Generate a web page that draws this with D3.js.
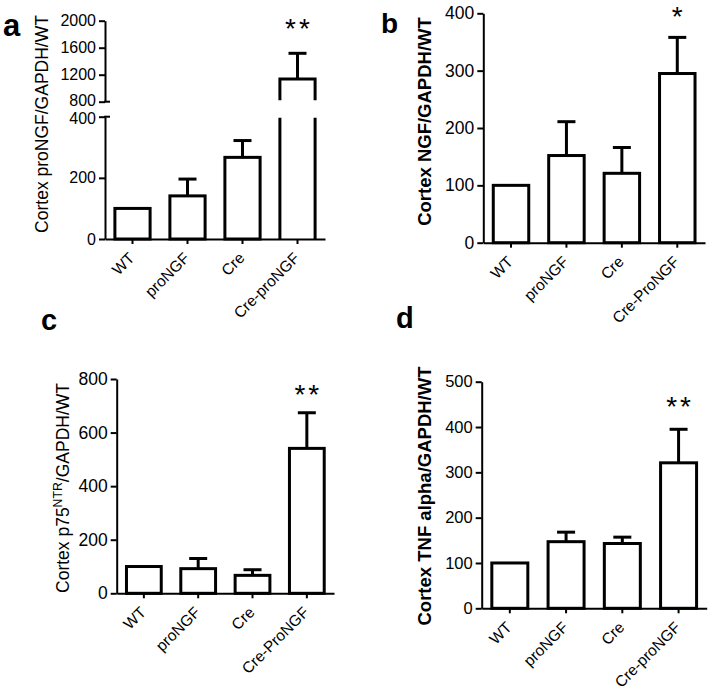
<!DOCTYPE html>
<html><head><meta charset="utf-8">
<script src="https://cdn.jsdelivr.net/npm/d3@7"></script>
<style>
body{margin:0;background:#fff}
svg{display:block}
text{font-family:"Liberation Sans",Arial,sans-serif;fill:#000}
</style>
</head><body>
<svg id="chart" width="712" height="699"></svg>
<script>
// ---------- DATA ----------
const categoriesA = ["WT", "proNGF", "Cre", "Cre-proNGF"];
const valuesA = [100, 141, 267, 1136];
const errorsA = [0, 55, 55, 381];
const ticksALow = [0, 200, 400];
const ticksAHigh = [800, 1200, 1600, 2000];

const categoriesB = ["WT", "proNGF", "Cre", "Cre-ProNGF"];
const valuesB = [100, 152, 121, 295];
const errorsB = [0, 59, 45, 63];
const ticksB = [0, 100, 200, 300, 400];

const categoriesC = ["WT", "proNGF", "Cre", "Cre-ProNGF"];
const valuesC = [100, 92, 67, 541];
const errorsC = [0, 38, 21, 133];
const ticksC = [0, 200, 400, 600, 800];

const categoriesD = ["WT", "proNGF", "Cre", "Cre-proNGF"];
const valuesD = [100, 147, 143, 321];
const errorsD = [0, 21, 14, 74];
const ticksD = [0, 100, 200, 300, 400, 500];

const signifA = ["", "", "", "**"];
const signifB = ["", "", "", "*"];
const signifC = ["", "", "", "**"];
const signifD = ["", "", "", "**"];

// ---------- PANELS ----------
const svg = d3.select("#chart");

const panels = [
  {label: "a", labelPos: [3, 36], labelSize: 31, cats: categoriesA, vals: valuesA, errs: errorsA, sig: signifA, sigOffset: 32,
   x0: 105, x1: 325, tickSize: 16,
   segments: [{domain: [0, 400], range: [239, 116.7], ticks: ticksALow},
              {domain: [800, 2000], range: [101.7, 20.7], ticks: ticksAHigh}],
   ylabel: [{t: "Cortex proNGF/GAPDH/WT"}], ylabelPos: [42, 124], ylabelBold: false, ylabelSize: 17.5},
  {label: "b", labelPos: [381, 33], labelSize: 28, cats: categoriesB, vals: valuesB, errs: errorsB, sig: signifB, sigOffset: 27.5,
   x0: 483.3, x1: 705, tickSize: 17.5,
   segments: [{domain: [0, 400], range: [242.7, 13.3], ticks: ticksB}],
   ylabel: [{t: "Cortex NGF/GAPDH/WT"}], ylabelPos: [425, 121.5], ylabelBold: true, ylabelSize: 18.5},
  {label: "c", labelPos: [41, 330], labelSize: 29, cats: categoriesC, vals: valuesC, errs: errorsC, sig: signifC, sigOffset: 25,
   x0: 116.7, x1: 334, tickSize: 17.5,
   segments: [{domain: [0, 800], range: [593.3, 379], ticks: ticksC}],
   ylabel: [{t: "Cortex p75"}, {t: "NTR", sup: true}, {t: "/GAPDH/WT"}], ylabelPos: [63, 488], ylabelBold: false, ylabelSize: 17.5},
  {label: "d", labelPos: [396, 328], labelSize: 29, cats: categoriesD, vals: valuesD, errs: errorsD, sig: signifD, sigOffset: 30,
   x0: 481.7, x1: 706.7, tickSize: 16.5,
   segments: [{domain: [0, 500], range: [608.3, 381.7], ticks: ticksD}],
   ylabel: [{t: "Cortex TNF alpha/GAPDH/WT"}], ylabelPos: [425, 496], ylabelBold: true, ylabelSize: 18.5}
];

panels.forEach(drawPanel);

function drawPanel(p) {
  const g = svg.append("g");
  const x = d3.scaleBand().domain(p.cats).range([p.x0, p.x1]).paddingInner(0.36).paddingOuter(0.18);
  const bw = x.bandwidth();
  const scales = p.segments.map(s => d3.scaleLinear().domain(s.domain).range(s.range));
  const segOf = v => {
    for (let i = 0; i < p.segments.length; i++) if (v <= p.segments[i].domain[1]) return i;
    return p.segments.length - 1;
  };
  const y = v => scales[segOf(v)](v);
  const y0 = scales[0](0);

  // y axis segments
  p.segments.forEach((s, i) => {
    const ax = g.append("g").attr("transform", `translate(${p.x0},0)`)
      .call(d3.axisLeft(scales[i]).tickValues(s.ticks).tickFormat(d3.format("d"))
        .tickSize(6).tickSizeOuter(0).tickPadding(3));
    styleAxis(ax, p.tickSize);
    if (p.segments.length > 1) {
      const ends = [];
      if (i < p.segments.length - 1) ends.push(s.range[1]);
      if (i > 0) ends.push(s.range[0]);
      ends.forEach(yy => g.append("line").attr("x1", p.x0 - 1).attr("x2", p.x0 + 5)
        .attr("y1", yy).attr("y2", yy).attr("stroke", "#000").attr("stroke-width", 2));
      ax.selectAll(".tick text").filter(d => d === s.domain[1] && i < p.segments.length - 1).attr("dy", "0.45em");
      ax.selectAll(".tick text").filter(d => d === s.domain[0] && i > 0).attr("dy", "0.22em");
    }
  });

  // bars
  p.cats.forEach((c, i) => {
    const v = p.vals[i];
    const xl = x(c), xr = x(c) + bw;
    const si = segOf(v);
    if (si === 0) {
      g.append("rect").attr("x", xl).attr("y", y(v)).attr("width", bw).attr("height", y0 - y(v))
        .attr("fill", "#fff").attr("stroke", "#000").attr("stroke-width", 3);
    } else {
      for (let k = 0; k < si; k++) {
        const r = p.segments[k].range;
        const yb = r[0], yt = r[1] + 1;
        g.append("path").attr("d", `M${xl},${yb}L${xl},${yt}M${xr},${yb}L${xr},${yt}`)
          .attr("fill", "none").attr("stroke", "#000").attr("stroke-width", 3);
      }
      const r = p.segments[si].range;
      g.append("path").attr("d", `M${xl},${r[0] - 1.5}L${xl},${y(v)}L${xr},${y(v)}L${xr},${r[0] - 1.5}`)
        .attr("fill", "none").attr("stroke", "#000").attr("stroke-width", 3).attr("stroke-linejoin", "miter");
    }
    const e = p.errs[i];
    const cx = xl + bw / 2;
    if (e > 0) {
      const ye = y(v + e);
      g.append("line").attr("x1", cx).attr("x2", cx).attr("y1", y(v)).attr("y2", ye)
        .attr("stroke", "#000").attr("stroke-width", 3);
      g.append("line").attr("x1", cx - 9).attr("x2", cx + 9).attr("y1", ye).attr("y2", ye)
        .attr("stroke", "#000").attr("stroke-width", 3);
    }
    if (p.sig[i]) {
      const yc = y(v + e) - p.sigOffset;
      g.append("text").attr("x", cx).attr("y", yc + 16.5).attr("text-anchor", "middle")
        .attr("font-size", 28).attr("letter-spacing", 3).attr("dx", 1.5)
        .text(p.sig[i]);
    }
  });

  // x axis
  const xa = g.append("g").attr("transform", `translate(0,${y0})`)
    .call(d3.axisBottom(x).tickSizeInner(5).tickSizeOuter(0));
  styleAxis(xa, 15.5);
  xa.selectAll(".tick text").attr("x", 0).attr("y", 0).attr("dy", 0)
    .attr("text-anchor", "end").attr("transform", "translate(3,20) rotate(-45)");

  // y label
  const yl = g.append("text")
    .attr("transform", `translate(${p.ylabelPos[0]},${p.ylabelPos[1]}) rotate(-90)`)
    .attr("text-anchor", "middle").attr("font-size", p.ylabelSize)
    .attr("font-weight", p.ylabelBold ? "bold" : "normal").attr("dy", "0.35em");
  p.ylabel.forEach(part => {
    const ts = yl.append("tspan").text(part.t);
    if (part.sup) ts.attr("font-size", p.ylabelSize * 0.7).attr("dy", -7);
    else if (yl.selectAll("tspan").size() > 1) ts.attr("dy", 7);
  });

  // panel label
  g.append("text").attr("x", p.labelPos[0]).attr("y", p.labelPos[1])
    .attr("font-family", "'Open Sans', sans-serif").attr("font-weight", "bold").attr("font-size", p.labelSize)
    .text(p.label);
}

function styleAxis(ax, fs) {
  ax.attr("font-size", null).attr("font-family", null);
  ax.select(".domain").attr("stroke", "#000").attr("stroke-width", 2);
  ax.selectAll(".tick line").attr("stroke", "#000").attr("stroke-width", 2);
  ax.selectAll(".tick text").attr("font-size", fs).attr("fill", "#000");
}
</script>
</body></html>
